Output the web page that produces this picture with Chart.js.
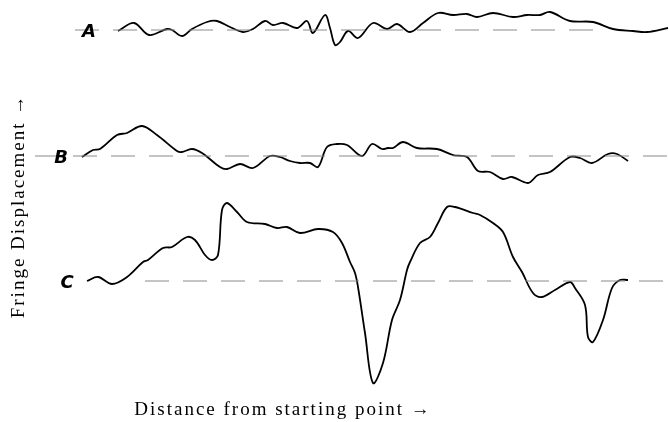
<!DOCTYPE html>
<html lang="en">
<head>
<meta charset="UTF-8">
<title>Fringe Displacement</title>
<script src="https://cdn.jsdelivr.net/npm/chart.js"></script>
<style>
  html, body { margin: 0; padding: 0; background: #fff; }
  #wrap { width: 669px; height: 422px; }
</style>
</head>
<body>
<div id="wrap"><canvas id="fringeChart"></canvas></div>
<script>
// distance along the path / fringe displacement (traces stacked, C baseline = 0)
const distA = [118,134,149,167,172,182,192,207,217,230,243,253,265,273,283,297,307,313,325,330,335,340,348,358,373,387,397,410,423,438,453,467,477,493,513,527,540,550,570,593,613,633,647,668];
const dispA = [250,258,246,252,251,245,252,259,260,254,249,252,260,256,258,253,260,248,266,253,236,239,250,243,258,252,257,249,258,268,266,267,264,268,264,266,266,269,260,259,252,250,249,253];

const distB = [82,93,100,117,127,142,157,177,182,192,202,220,227,240,253,270,280,290,300,310,318,327,337,347,362,372,382,388,393,403,417,437,453,467,478,490,503,512,528,538,550,570,580,592,608,617,628];
const dispB = [124,131,132,146,148,155,146,130,129,132,128,114,112,117,113,125,124,120,118,118,114,134,137,136,125,137,132,133,133,139,133,132,126,124,110,109,102,104,98,106,109,124,123,118,127,127,120];

const distC = [87,98,112,127,143,148,163,172,187,195,205,212,218,222,227,237,247,265,277,287,300,318,333,342,350,355,358,365,373,383,392,400,407,410,420,430,438,447,455,473,480,493,503,513,522,533,542,555,570,575,585,588,593,603,612,620,628];
const dispC = [0,4,-3,4,19,21,33,34,44,41,26,21,26,71,78,69,59,57,53,54,48,52,49,38,19,8,-6,-52,-102,-82,-39,-19,11,19,38,44,58,74,74,68,66,58,49,24,9,-12,-16,-9,-1,-7,-24,-56,-61,-39,-7,1,1];

const traceNames = ['A', 'B', 'C'];
const baseLevels = [251, 125, 0];
const baseStart = [75, 35, 145];
const baseEnd = [600, 668, 668];

const xTitle = 'Distance from starting point →';
const yTitle = 'Fringe Displacement →';

function pts(xs, ys) {
  return xs.map((x, i) => ({ x: x, y: ys[i] }));
}

const datasets = [];
traceNames.forEach((name, i) => {
  datasets.push({
    label: name + ' baseline',
    data: [{ x: baseStart[i], y: baseLevels[i] }, { x: baseEnd[i], y: baseLevels[i] }],
    borderColor: '#8a8a8a',
    borderWidth: 1,
    borderDash: [24, 14],
    pointRadius: 0
  });
});
[[distA, dispA], [distB, dispB], [distC, dispC]].forEach((d, i) => {
  datasets.push({
    label: traceNames[i],
    data: pts(d[0], d[1]),
    borderColor: '#000',
    borderWidth: 1.8,
    tension: 0.35,
    pointRadius: 0
  });
});

// letters next to each trace and the two axis captions
const labelsPlugin = {
  id: 'labels',
  afterDraw(chart) {
    const ctx = chart.ctx;
    const ys = chart.scales.y;
    ctx.save();
    ctx.fillStyle = '#000';
    ctx.textAlign = 'center';
    ctx.textBaseline = 'middle';
    ctx.font = 'italic bold 18px "DejaVu Sans"';
    const letterX = [89, 61, 67];
    traceNames.forEach((name, i) => {
      ctx.fillText(name, letterX[i], ys.getPixelForValue(baseLevels[i]) + 2);
    });

    ctx.font = '19px "Liberation Serif"';
    ctx.letterSpacing = '2px';
    ctx.fillText(xTitle, 283, 410);

    ctx.translate(19, 206);
    ctx.rotate(-Math.PI / 2);
    ctx.fillText(yTitle, 0, 0);
    ctx.restore();
  }
};

new Chart(document.getElementById('fringeChart'), {
  type: 'line',
  data: { datasets: datasets },
  options: {
    responsive: true,
    maintainAspectRatio: false,
    animation: false,
    layout: { padding: 0 },
    plugins: { legend: { display: false }, tooltip: { enabled: false } },
    scales: {
      x: { type: 'linear', min: 0, max: 669, display: false },
      y: { type: 'linear', min: -141, max: 281, display: false }
    }
  },
  plugins: [labelsPlugin]
});
</script>
</body>
</html>
